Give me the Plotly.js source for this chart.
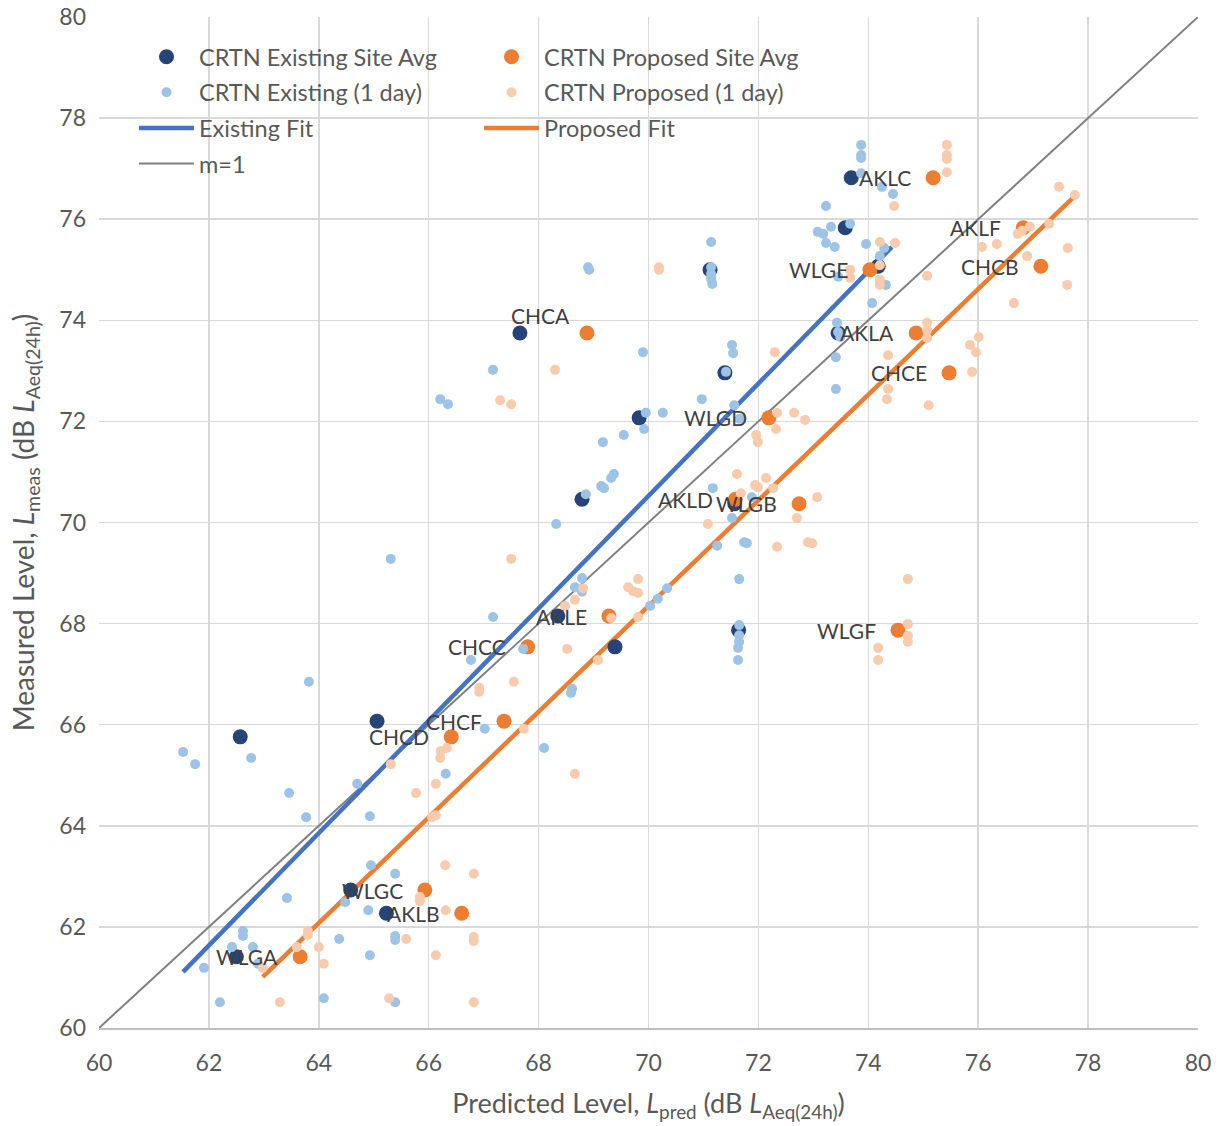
<!DOCTYPE html>
<html>
<head>
<meta charset="utf-8">
<script src="https://cdn.plot.ly/plotly-3.0.1.min.js"></script>
<style>html,body{margin:0;padding:0;background:#fff;}#chart{width:1221px;height:1126px;}</style>
</head>
<body>
<div id="chart"></div>
<script>
// ---- Site averages ----
const sites = ['AKLC','AKLF','CHCB','WLGE','CHCA','AKLA','CHCE','WLGD','AKLD','WLGB','AKLE','CHCC','WLGF','CHCF','CHCD','WLGC','AKLB','WLGA'];
const siteMeas = [76.82,75.83,75.07,75.00,73.75,73.75,72.96,72.07,70.46,70.37,68.15,67.54,67.87,66.07,65.76,62.73,62.27,61.41];
const sitePredExisting = [73.69,73.58,74.18,71.12,67.66,73.45,71.39,69.83,68.79,71.57,68.35,69.39,71.64,65.06,62.57,64.58,65.23,62.50];
const sitePredProposed = [75.18,76.82,77.14,74.03,68.88,74.87,75.47,72.19,71.58,72.74,69.28,67.80,74.54,67.37,66.41,65.93,66.60,63.66];

// ---- 1-day values, existing CRTN ----
const existingDayX = [73.87,73.87,73.87,73.87,74.25,74.45,73.23,73.67,73.32,73.08,73.18,73.23,73.39,73.96,74.29,74.21,73.45,74.32,74.07,73.43,73.45,73.49,73.41,73.41,
71.14,71.14,71.14,71.14,71.16,68.90,68.92,69.90,71.52,71.54,67.17,66.21,66.35,71.41,70.97,71.56,69.95,70.26,69.92,71.66,69.17,69.55,69.32,69.37,69.14,69.19,68.86,
71.17,71.88,71.52,68.32,71.25,71.74,71.79,71.65,68.79,68.66,68.79,70.34,70.17,70.03,67.17,71.65,71.65,71.65,71.63,71.63,67.72,66.77,68.61,68.59,65.31,63.82,67.02,
68.10,66.31,61.53,61.75,62.77,63.46,63.77,64.70,64.93,64.95,65.39,63.42,64.48,64.90,62.62,62.62,62.42,62.80,62.89,61.91,64.37,65.39,65.39,64.93,62.20,64.09,65.39];
const existingDayY = [77.47,77.27,77.21,76.91,76.64,76.50,76.26,75.91,75.85,75.75,75.71,75.53,75.45,75.51,75.43,75.27,74.86,74.70,74.34,73.95,73.77,73.67,73.27,72.64,
75.55,75.05,74.92,74.82,74.72,75.05,75.00,73.37,73.51,73.35,73.02,72.44,72.34,72.98,72.44,72.32,72.17,72.17,71.85,72.05,71.59,71.73,70.88,70.96,70.72,70.68,70.56,
70.68,70.50,70.09,69.97,69.54,69.61,69.59,68.88,68.90,68.72,68.63,68.70,68.49,68.35,68.13,67.97,67.77,67.64,67.52,67.28,67.50,67.28,66.71,66.63,69.28,66.85,65.92,
65.54,65.03,65.46,65.22,65.34,64.65,64.17,64.83,64.19,63.22,63.05,62.57,62.49,62.33,61.92,61.82,61.60,61.60,61.27,61.19,61.76,61.82,61.74,61.44,60.51,60.59,60.51];

// ---- 1-day values, proposed CRTN ----
const proposedDayX = [75.43,75.43,75.43,75.43,74.47,77.47,77.76,74.21,74.49,74.21,73.67,73.67,74.21,74.21,75.07,76.94,76.80,76.72,77.29,76.07,76.34,77.63,76.89,77.62,
76.65,75.07,75.07,75.07,76.01,75.85,75.96,74.36,74.36,74.34,75.10,75.89,74.72,74.72,74.72,74.72,74.18,74.18,70.19,70.19,72.30,68.30,67.30,67.50,72.34,72.65,72.85,
72.32,71.96,71.99,71.61,72.14,71.94,71.99,72.27,71.68,73.07,72.70,71.08,72.34,72.90,72.98,67.50,69.81,69.63,69.72,69.81,68.81,68.66,68.48,69.81,69.32,68.52,69.08,
67.55,66.92,66.92,67.73,68.66,66.82,66.82,66.82,66.82,65.31,66.22,66.33,66.21,66.13,65.77,66.06,66.13,66.30,65.84,65.84,66.31,65.59,66.13,65.28,63.80,63.80,63.60,
64.00,64.09,62.98,63.29];
const proposedDayY = [77.47,77.27,77.19,76.93,76.26,76.64,76.48,75.55,75.53,75.09,75.00,74.84,74.80,74.70,74.88,75.85,75.77,75.71,75.91,75.45,75.51,75.43,75.27,74.70,
74.34,73.95,73.81,73.65,73.67,73.51,73.37,73.31,72.64,72.44,72.32,72.98,68.88,67.99,67.76,67.64,67.52,67.28,75.05,75.00,73.37,73.02,72.42,72.34,72.17,72.17,72.03,
71.85,71.73,71.59,70.96,70.88,70.74,70.70,70.68,70.58,70.50,70.09,69.97,69.52,69.61,69.59,69.28,68.88,68.72,68.64,68.61,68.70,68.47,68.35,68.13,68.11,67.50,67.28,
66.85,66.73,66.65,65.92,65.03,63.05,61.80,61.72,60.51,65.22,65.48,65.54,65.34,64.83,64.65,64.17,64.21,63.22,62.59,62.51,62.33,61.76,61.44,60.59,61.92,61.84,61.60,
61.60,61.27,61.19,60.51];

// ---- Fit lines and reference line (end points) ----
const existingFitX = [61.53, 74.43];
const existingFitY = [61.11, 75.45];
const proposedFitX = [62.98, 77.76];
const proposedFitY = [61.01, 76.46];
const unityX = [60, 80];
const unityY = [60, 80];

const FONT = 'Lato, "Open Sans", sans-serif';

const traces = [
  {x: unityX, y: unityY, mode:'lines', name:'m=1', line:{color:'#808080', width:2}, legend:'legend', legendgroup:'g4', legendrank:4},
  {x: existingFitX, y: existingFitY, mode:'lines', name:'Existing Fit', line:{color:'#4472C4', width:4.5}, legend:'legend', legendgroup:'g3', legendrank:3},
  {x: proposedFitX, y: proposedFitY, mode:'lines', name:'Proposed Fit', line:{color:'#ED7D31', width:4.5}, legend:'legend2', legendgroup:'g7', legendrank:3},
  {x: sitePredExisting, y: siteMeas, text: sites, mode:'markers', type:'scatter', name:'CRTN Existing Site Avg', marker:{color:'#264478', size:15}, legend:'legend', legendgroup:'g1', legendrank:1},
  {x: sitePredProposed, y: siteMeas, text: sites, mode:'markers', type:'scatter', name:'CRTN Proposed Site Avg', marker:{color:'#ED7D31', size:15}, legend:'legend2', legendgroup:'g5', legendrank:1},
  {x: existingDayX, y: existingDayY, mode:'markers', type:'scatter', name:'CRTN Existing (1 day)', marker:{color:'#9DC3E6', size:10}, legend:'legend', legendgroup:'g2', legendrank:2},
  {x: proposedDayX, y: proposedDayY, mode:'markers', type:'scatter', name:'CRTN Proposed (1 day)', marker:{color:'#F8CBAD', size:10}, legend:'legend2', legendgroup:'g6', legendrank:2}
];

const annotations = sites.map((s, i) => {
  const special = (s === 'CHCA');
  return {
    x: sitePredProposed[i], y: siteMeas[i], xref:'x', yref:'y',
    text: s, showarrow:false, xanchor:'right', yanchor:'middle',
    xshift: special ? -15 : -20, yshift: special ? 17 : 0,
    font:{family:FONT, size:21, color:'#404040'}
  };
});

const axisCommon = {
  range:[60,80], tick0:60, dtick:2, showgrid:true, gridcolor:'#D9D9D9', gridwidth:1.5,
  zeroline:false, ticks:'', fixedrange:true, automargin:false,
  tickfont:{family:FONT, size:23, color:'#595959'}
};

const legendCommon = {
  xref:'paper', yref:'paper', xanchor:'left', yanchor:'top',
  bgcolor:'rgba(0,0,0,0)', borderwidth:0, font:{family:FONT, size:23.5, color:'#595959'},
  itemwidth:55, traceorder:'grouped', tracegroupgap:2, itemclick:false, itemdoubleclick:false
};

const layout = {
  width:1221, height:1126,
  margin:{l:99, r:23, t:17, b:98, pad:0},
  paper_bgcolor:'#ffffff', plot_bgcolor:'#ffffff',
  font:{family:FONT, color:'#595959', size:22},
  xaxis: Object.assign({}, axisCommon, {
    showline:true, linecolor:'#BFBFBF', linewidth:2,
    ticklabelstandoff:13,
    title:{text:'Predicted Level, <i>L</i><sub>pred</sub> (dB <i>L</i><sub>Aeq(24h)</sub>)', font:{family:FONT, size:27, color:'#595959'}, standoff:20}
  }),
  yaxis: Object.assign({}, axisCommon, {
    showline:false, ticklabelstandoff:12,
    title:{text:'Measured Level, <i>L</i><sub>meas</sub> (dB <i>L</i><sub>Aeq(24h)</sub>)', font:{family:FONT, size:28, color:'#595959'}, standoff:16}
  }),
  showlegend:true,
  legend: Object.assign({}, legendCommon, {x:(134-99)/1099, y:1-(35-17)/1011}),
  legend2: Object.assign({}, legendCommon, {x:(479-99)/1099, y:1-(35-17)/1011}),
  annotations: annotations,
  hovermode:'closest'
};

Plotly.newPlot('chart', traces, layout, {displayModeBar:false, staticPlot:true});
</script>
</body>
</html>
